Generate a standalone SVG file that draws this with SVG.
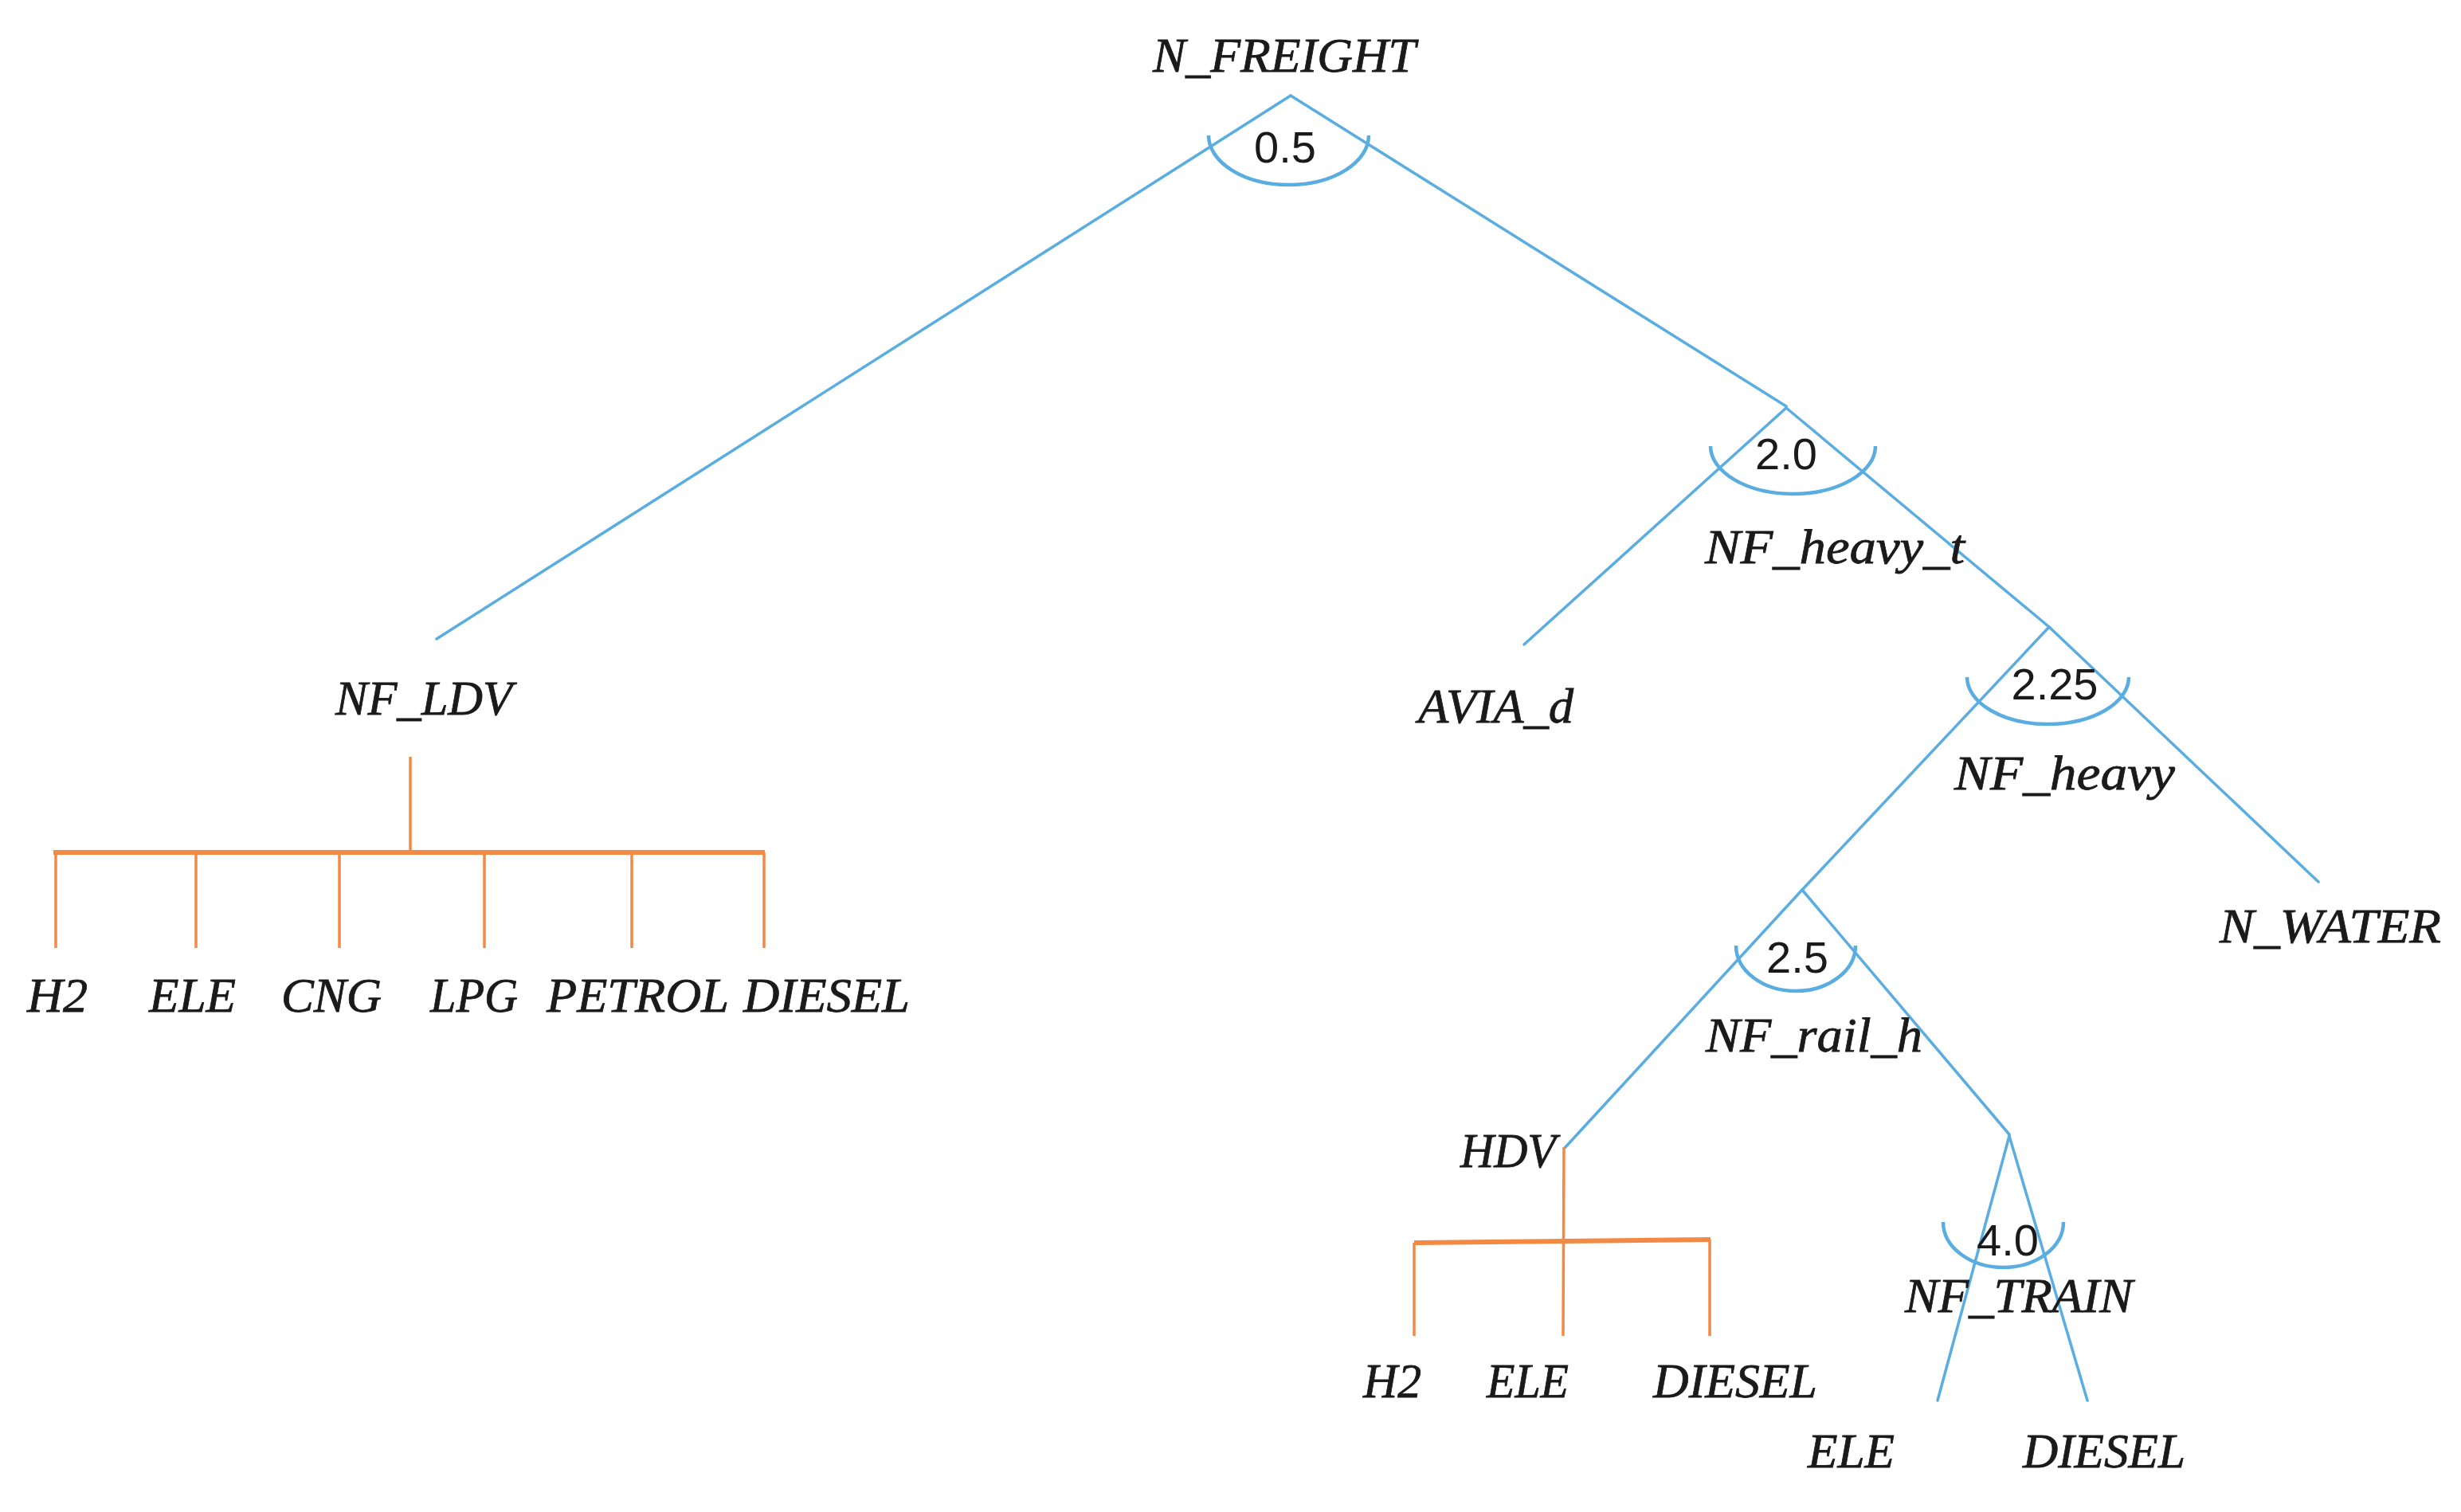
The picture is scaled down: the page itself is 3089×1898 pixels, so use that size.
<svg xmlns="http://www.w3.org/2000/svg" width="3089" height="1898" viewBox="0 0 3089 1898">
<style>
.lbl{font-family:"Liberation Serif","DejaVu Serif",serif;font-style:italic;font-size:62px;fill:#1a1a1a;stroke:#1a1a1a;stroke-width:0.8}
.num{font-family:"Liberation Sans","DejaVu Sans",sans-serif;font-size:56px;fill:#1a1a1a;text-anchor:middle}
.b{stroke:#5AADE0;stroke-width:3.5;fill:none;stroke-linecap:round}
.arc{stroke:#5AADE0;stroke-width:4.5;fill:none}
.o{stroke:#F28A45;stroke-width:3.5;fill:none}
.ot{stroke:#F28A45;stroke-width:6;fill:none}
</style>
<rect width="3089" height="1898" fill="#ffffff"/>
<g id="connectors">
  <line class="b" x1="1620" y1="120" x2="548" y2="802"/>
  <line class="b" x1="1620" y1="120" x2="2242" y2="510"/>
  <line class="b" x1="2242" y1="512" x2="1913" y2="809"/>
  <line class="b" x1="2242" y1="512" x2="2572" y2="787"/>
  <line class="b" x1="2572" y1="787" x2="2262" y2="1117"/>
  <line class="b" x1="2572" y1="787" x2="2910" y2="1107"/>
  <line class="b" x1="2262" y1="1117" x2="1964" y2="1441"/>
  <line class="b" x1="2262" y1="1117" x2="2522" y2="1424"/>
  <line class="b" x1="2522" y1="1426" x2="2432" y2="1758"/>
  <line class="b" x1="2522" y1="1426" x2="2620" y2="1758"/>
  <line class="o" x1="515" y1="950" x2="515" y2="1070"/>
  <line class="ot" x1="67" y1="1070" x2="960" y2="1070"/>
  <line class="o" x1="70" y1="1070" x2="70" y2="1190"/>
  <line class="o" x1="246" y1="1070" x2="246" y2="1190"/>
  <line class="o" x1="426" y1="1070" x2="426" y2="1190"/>
  <line class="o" x1="608" y1="1070" x2="608" y2="1190"/>
  <line class="o" x1="793" y1="1070" x2="793" y2="1190"/>
  <line class="o" x1="959" y1="1070" x2="959" y2="1190"/>
  <line class="o" x1="1963" y1="1440" x2="1962" y2="1677"/>
  <line class="ot" x1="1775" y1="1560" x2="2147" y2="1556"/>
  <line class="o" x1="1775" y1="1560" x2="1775" y2="1677"/>
  <line class="o" x1="2146" y1="1556" x2="2146" y2="1677"/>
</g>
<g id="n_freight">
  <text class="lbl" x="1447" y="90" textLength="330" lengthAdjust="spacingAndGlyphs">N_FREIGHT</text>
  <path class="arc" d="M1517,170 A100.5,62 0 0 0 1718,170"/>
  <text class="num" x="1613" y="204">0.5</text>
</g>
<g id="nf_heavy_t">
  <path class="arc" d="M2147,560 A103.5,60 0 0 0 2354,560"/>
  <text class="num" x="2242" y="589">2.0</text>
  <text class="lbl" x="2140" y="707" textLength="326" lengthAdjust="spacingAndGlyphs">NF_heavy_t</text>
</g>
<g id="nf_heavy">
  <path class="arc" d="M2469,850 A101.5,59 0 0 0 2672,850"/>
  <text class="num" x="2579" y="878">2.25</text>
  <text class="lbl" x="2453" y="991" textLength="277" lengthAdjust="spacingAndGlyphs">NF_heavy</text>
</g>
<g id="nf_rail_h">
  <path class="arc" d="M2179,1187 A75,57 0 0 0 2329,1187"/>
  <text class="num" x="2256" y="1221">2.5</text>
  <text class="lbl" x="2141" y="1320" textLength="272" lengthAdjust="spacingAndGlyphs">NF_rail_h</text>
</g>
<g id="nf_train">
  <path class="arc" d="M2439,1534 A75.5,57 0 0 0 2590,1534"/>
  <text class="num" x="2520" y="1576">4.0</text>
  <text class="lbl" x="2391" y="1647" textLength="286" lengthAdjust="spacingAndGlyphs">NF_TRAIN</text>
</g>
<g id="nf_ldv">
  <text class="lbl" x="421" y="897" textLength="222" lengthAdjust="spacingAndGlyphs">NF_LDV</text>
</g>
<g id="avia_d">
  <text class="lbl" x="1780" y="907" textLength="195" lengthAdjust="spacingAndGlyphs">AVIA_d</text>
</g>
<g id="n_water">
  <text class="lbl" x="2786" y="1183" textLength="278" lengthAdjust="spacingAndGlyphs">N_WATER</text>
</g>
<g id="hdv">
  <text class="lbl" x="1833" y="1465" textLength="120" lengthAdjust="spacingAndGlyphs">HDV</text>
</g>
<g id="ldv_h2"><text class="lbl" x="34" y="1270" textLength="76" lengthAdjust="spacingAndGlyphs">H2</text></g>
<g id="ldv_ele"><text class="lbl" x="187" y="1270" textLength="109" lengthAdjust="spacingAndGlyphs">ELE</text></g>
<g id="ldv_cng"><text class="lbl" x="353" y="1270" textLength="126" lengthAdjust="spacingAndGlyphs">CNG</text></g>
<g id="ldv_lpg"><text class="lbl" x="540" y="1270" textLength="110" lengthAdjust="spacingAndGlyphs">LPG</text></g>
<g id="ldv_petrol"><text class="lbl" x="686" y="1270" textLength="229" lengthAdjust="spacingAndGlyphs">PETROL</text></g>
<g id="ldv_diesel"><text class="lbl" x="933" y="1270" textLength="209" lengthAdjust="spacingAndGlyphs">DIESEL</text></g>
<g id="hdv_h2"><text class="lbl" x="1711" y="1754" textLength="73" lengthAdjust="spacingAndGlyphs">H2</text></g>
<g id="hdv_ele"><text class="lbl" x="1866" y="1754" textLength="103" lengthAdjust="spacingAndGlyphs">ELE</text></g>
<g id="hdv_diesel"><text class="lbl" x="2075" y="1754" textLength="206" lengthAdjust="spacingAndGlyphs">DIESEL</text></g>
<g id="train_ele"><text class="lbl" x="2269" y="1842" textLength="109" lengthAdjust="spacingAndGlyphs">ELE</text></g>
<g id="train_diesel"><text class="lbl" x="2539" y="1842" textLength="204" lengthAdjust="spacingAndGlyphs">DIESEL</text></g>
</svg>
